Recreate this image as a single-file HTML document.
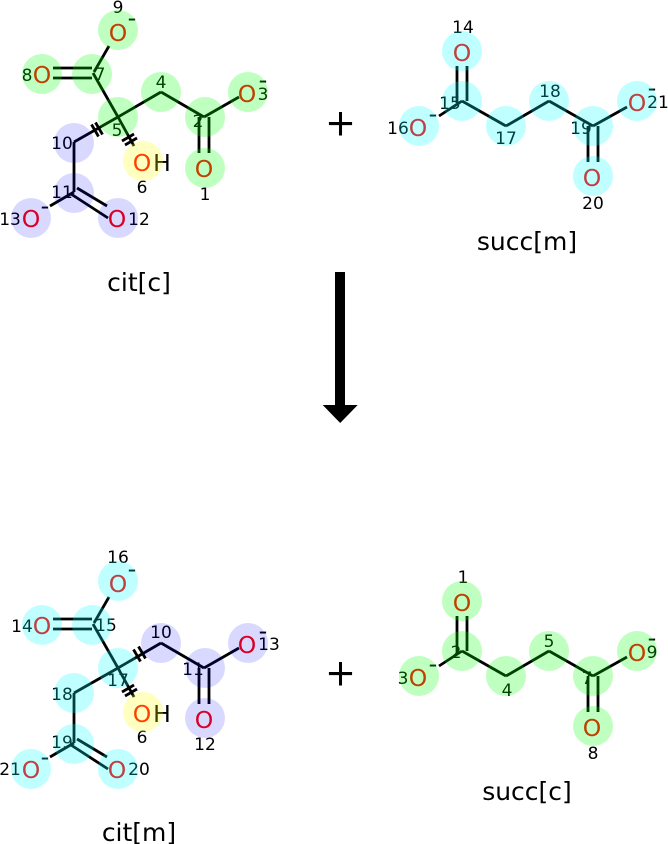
<!DOCTYPE html>
<html><head><meta charset="utf-8">
<style>
html,body{margin:0;padding:0;background:#fff;width:668px;height:844px;overflow:hidden}
svg{display:block}
text{font-family:"DejaVu Sans",sans-serif;text-anchor:middle;fill:#000}
.n{font-size:17px}
.o{font-size:23.5px;fill:#f00}
.h{font-size:23.5px}
.m{font-size:24px}
.t{font-size:25px}
.b line{stroke:#000;stroke-width:2.8}
</style></head>
<body>
<svg width="668" height="844" viewBox="0 0 668 844" xmlns="http://www.w3.org/2000/svg">
<rect width="668" height="844" fill="#fff"/>

<!-- cit bonds -->
<g class="b" id="c1">
<line x1="94" y1="72" x2="109" y2="46"/>
<line x1="53" y1="68" x2="92" y2="68"/><line x1="53" y1="78" x2="92" y2="78"/>
<line x1="93" y1="73" x2="118" y2="117"/>
<line x1="118" y1="117" x2="161" y2="92"/><line x1="161" y1="92" x2="204" y2="117"/>
<line x1="204" y1="117" x2="239" y2="97"/>
<line x1="199" y1="117" x2="199" y2="153"/><line x1="209" y1="117" x2="209" y2="153"/>
<line x1="118" y1="117" x2="74" y2="142"/>
<line x1="74" y1="142" x2="74" y2="192"/>
<line x1="74" y1="192" x2="50" y2="206"/>
<line x1="71" y1="194" x2="108" y2="218"/><line x1="77" y1="188" x2="107" y2="206"/>
<line x1="118" y1="117" x2="134" y2="146"/>
<line x1="91.5" y1="124.5" x2="98.5" y2="136.5"/><line x1="95.5" y1="122.5" x2="102.5" y2="134.5"/>
<line x1="122" y1="141" x2="134" y2="134"/><line x1="125" y1="145" x2="137" y2="138"/>
</g>
<g class="b" transform="translate(0,551)">
<line x1="94" y1="72" x2="109" y2="46"/>
<line x1="53" y1="68" x2="92" y2="68"/><line x1="53" y1="78" x2="92" y2="78"/>
<line x1="93" y1="73" x2="118" y2="117"/>
<line x1="118" y1="117" x2="161" y2="92"/><line x1="161" y1="92" x2="204" y2="117"/>
<line x1="204" y1="117" x2="239" y2="97"/>
<line x1="199" y1="117" x2="199" y2="153"/><line x1="209" y1="117" x2="209" y2="153"/>
<line x1="118" y1="117" x2="74" y2="142"/>
<line x1="74" y1="142" x2="74" y2="192"/>
<line x1="74" y1="192" x2="50" y2="206"/>
<line x1="71" y1="194" x2="108" y2="218"/><line x1="77" y1="188" x2="107" y2="206"/>
<line x1="118" y1="117" x2="134" y2="146"/>
<line x1="133.5" y1="98.5" x2="140.5" y2="110.5"/><line x1="138.5" y1="95.5" x2="145.5" y2="107.5"/>
<line x1="122" y1="141" x2="134" y2="134"/><line x1="125" y1="145" x2="137" y2="138"/>
</g>

<!-- succ bonds -->
<g class="b">
<line x1="457" y1="66" x2="457" y2="103"/><line x1="467" y1="66" x2="467" y2="101"/>
<line x1="462" y1="101" x2="439" y2="116"/>
<line x1="462" y1="101" x2="506" y2="126"/><line x1="506" y1="126" x2="549" y2="101"/><line x1="549" y1="101" x2="593" y2="126"/>
<line x1="593" y1="126" x2="627" y2="107"/>
<line x1="588" y1="126" x2="588" y2="162"/><line x1="598" y1="126" x2="598" y2="162"/>
</g>
<g class="b" transform="translate(0,550)">
<line x1="457" y1="66" x2="457" y2="103"/><line x1="467" y1="66" x2="467" y2="101"/>
<line x1="462" y1="101" x2="439" y2="116"/>
<line x1="462" y1="101" x2="506" y2="126"/><line x1="506" y1="126" x2="549" y2="101"/><line x1="549" y1="101" x2="593" y2="126"/>
<line x1="593" y1="126" x2="627" y2="107"/>
<line x1="588" y1="126" x2="588" y2="162"/><line x1="598" y1="126" x2="598" y2="162"/>
</g>

<!-- atoms cit[c] -->
<text class="o" x="118" y="41">O</text><text class="o" x="42" y="83">O</text>
<text class="o" x="247" y="102">O</text><text class="o" x="204" y="177">O</text>
<text class="o" x="142" y="171">O</text><text class="h" x="162" y="171">H</text>
<text class="o" x="31" y="227">O</text><text class="o" x="117" y="227">O</text>
<text class="m" x="132" y="26">-</text><text class="m" x="263" y="88">-</text><text class="m" x="45" y="214">-</text>
<text class="n" x="118" y="13">9</text><text class="n" x="27" y="81">8</text><text class="n" x="100" y="80">7</text>
<text class="n" x="161" y="88">4</text><text class="n" x="117" y="136">5</text><text class="n" x="198" y="127">2</text>
<text class="n" x="263" y="100">3</text><text class="n" x="205" y="200">1</text><text class="n" x="142" y="193">6</text>
<text class="n" x="62" y="149">10</text><text class="n" x="62" y="198">11</text>
<text class="n" x="10" y="225">13</text><text class="n" x="139" y="225">12</text>

<!-- atoms cit[m] -->
<g transform="translate(0,551)">
<text class="o" x="118" y="41">O</text><text class="o" x="42" y="83">O</text>
<text class="o" x="247" y="102">O</text><text class="o" x="204" y="177">O</text>
<text class="o" x="142" y="171">O</text><text class="h" x="162" y="171">H</text>
<text class="o" x="31" y="227">O</text><text class="o" x="117" y="227">O</text>
<text class="m" x="132" y="26">-</text><text class="m" x="263" y="88">-</text><text class="m" x="45" y="214">-</text>
</g>
<text class="n" x="118" y="563">16</text><text class="n" x="22" y="632">14</text><text class="n" x="106" y="631">15</text>
<text class="n" x="161" y="638">10</text><text class="n" x="118" y="686">17</text><text class="n" x="193" y="675">11</text>
<text class="n" x="269" y="650">13</text><text class="n" x="62" y="700">18</text><text class="n" x="142" y="743">6</text>
<text class="n" x="205" y="750">12</text><text class="n" x="62" y="748">19</text>
<text class="n" x="10" y="775">21</text><text class="n" x="139" y="775">20</text>

<!-- atoms succ[m] -->
<text class="o" x="462" y="61">O</text><text class="o" x="418" y="136">O</text>
<text class="o" x="637" y="111">O</text><text class="o" x="592" y="186">O</text>
<text class="m" x="433" y="122">-</text><text class="m" x="652" y="96">-</text>
<text class="n" x="463" y="33">14</text><text class="n" x="450" y="109">15</text><text class="n" x="398" y="134">16</text>
<text class="n" x="506" y="144">17</text><text class="n" x="550" y="97">18</text><text class="n" x="581" y="134">19</text>
<text class="n" x="658" y="108">21</text><text class="n" x="593" y="209">20</text>

<!-- atoms succ[c] -->
<g transform="translate(0,550)">
<text class="o" x="462" y="61">O</text><text class="o" x="418" y="136">O</text>
<text class="o" x="637" y="111">O</text><text class="o" x="592" y="186">O</text>
<text class="m" x="433" y="122">-</text><text class="m" x="652" y="96">-</text>
</g>
<text class="n" x="463" y="583">1</text><text class="n" x="456" y="658">2</text><text class="n" x="403" y="684">3</text>
<text class="n" x="507" y="696">4</text><text class="n" x="549" y="647">5</text><text class="n" x="587" y="684">7</text>
<text class="n" x="652" y="658">9</text><text class="n" x="593" y="759">8</text>

<!-- highlight circles -->
<g fill="#0f0" fill-opacity=".25">
<circle cx="118" cy="30" r="20"/><circle cx="42" cy="74" r="20"/><circle cx="92" cy="74" r="20"/>
<circle cx="118" cy="117" r="20"/><circle cx="161" cy="92" r="20"/><circle cx="205" cy="117" r="20"/>
<circle cx="248" cy="92" r="20"/><circle cx="205" cy="168" r="20"/>
<circle cx="462" cy="601" r="20"/><circle cx="462" cy="651" r="20"/><circle cx="419" cy="676" r="20"/>
<circle cx="506" cy="676" r="20"/><circle cx="549" cy="651" r="20"/><circle cx="593" cy="676" r="20"/>
<circle cx="637" cy="651" r="20"/><circle cx="593" cy="726" r="20"/>
</g>
<g fill="#00f" fill-opacity=".15">
<circle cx="74" cy="143" r="20"/><circle cx="74" cy="193" r="20"/><circle cx="31" cy="218" r="20"/><circle cx="118" cy="218" r="20"/>
<circle cx="161" cy="643" r="20"/><circle cx="205" cy="668" r="20"/><circle cx="248" cy="643" r="20"/><circle cx="205" cy="718" r="20"/>
</g>
<g fill="#0ff" fill-opacity=".25">
<circle cx="462" cy="51" r="20"/><circle cx="462" cy="101" r="20"/><circle cx="419" cy="126" r="20"/>
<circle cx="506" cy="126" r="20"/><circle cx="549" cy="101" r="20"/><circle cx="593" cy="126" r="20"/>
<circle cx="637" cy="101" r="20"/><circle cx="593" cy="176" r="20"/>
<circle cx="118" cy="581" r="20"/><circle cx="42" cy="625" r="20"/><circle cx="92" cy="625" r="20"/>
<circle cx="118" cy="668" r="20"/><circle cx="74" cy="693" r="20"/><circle cx="74" cy="744" r="20"/>
<circle cx="31" cy="769" r="20"/><circle cx="118" cy="769" r="20"/>
</g>
<g fill="#ff0" fill-opacity=".25">
<circle cx="143" cy="161" r="20"/><circle cx="143" cy="712" r="20"/>
</g>

<!-- plus signs -->
<text x="340.5" y="135.5" style="font-size:37px">+</text>
<text x="340.5" y="685.5" style="font-size:37px">+</text>

<!-- arrow -->
<rect x="335" y="272" width="10" height="134" fill="#000"/>
<polygon points="322.7,405 357.7,405 340.2,423" fill="#000"/>

<!-- titles -->
<text class="t" x="139" y="291">cit[c]</text>
<text class="t" x="527" y="250">succ[m]</text>
<text class="t" x="139" y="841">cit[m]</text>
<text class="t" x="527" y="800">succ[c]</text>
</svg>
</body></html>
